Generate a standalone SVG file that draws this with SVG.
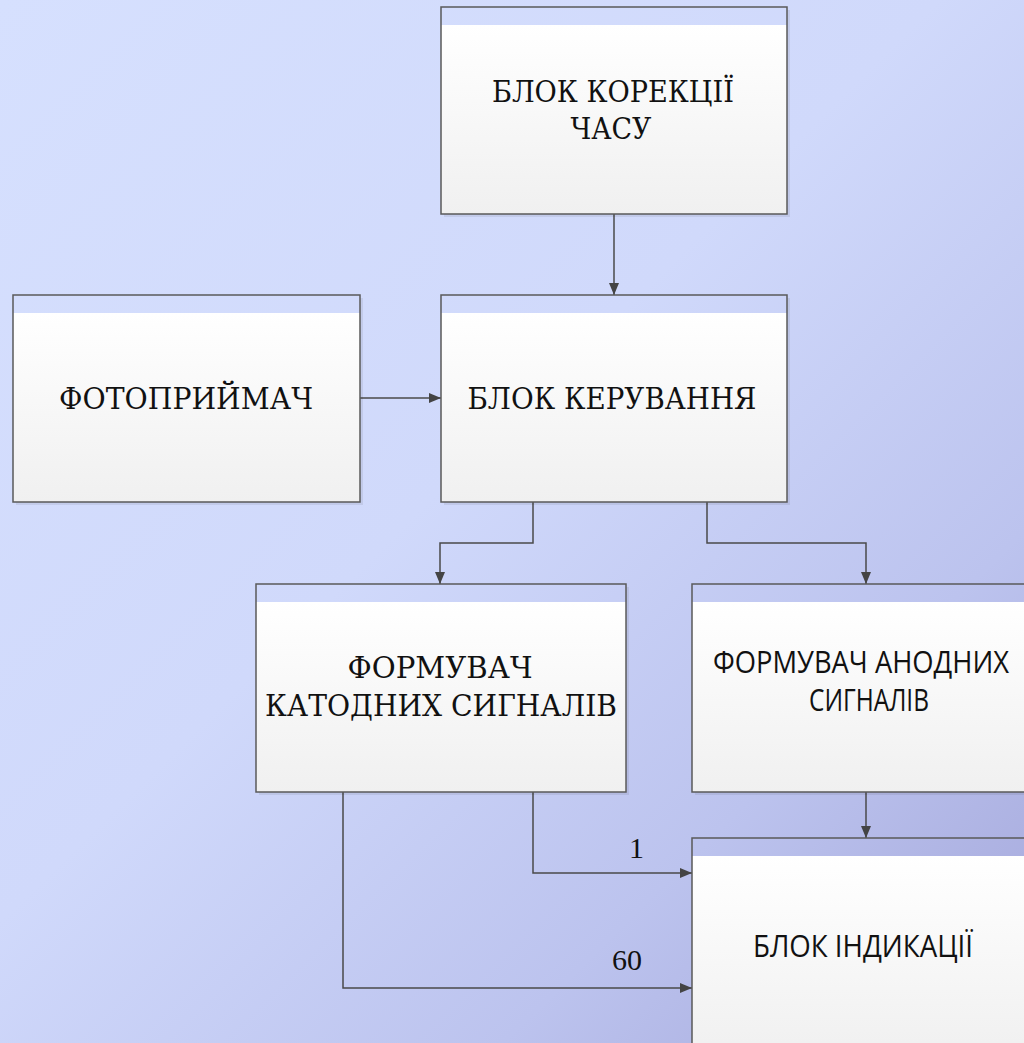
<svg xmlns="http://www.w3.org/2000/svg" width="1024" height="1043" viewBox="0 0 1024 1043">
<defs>
<linearGradient id="bg" x1="0" y1="0" x2="1024" y2="1043" gradientUnits="userSpaceOnUse">
<stop offset="0" stop-color="#d6e0fe"/>
<stop offset="0.45" stop-color="#d0d9fb"/>
<stop offset="0.75" stop-color="#bcc3ee"/>
<stop offset="1" stop-color="#a3a6da"/>
</linearGradient>
<linearGradient id="body" x1="0" y1="0" x2="0" y2="1">
<stop offset="0" stop-color="#ffffff"/>
<stop offset="1" stop-color="#f0f0f0"/>
</linearGradient>
<marker id="arr" viewBox="0 0 12 10" refX="12" refY="5" markerWidth="12" markerHeight="10" markerUnits="userSpaceOnUse" orient="auto">
<path d="M0,0 L12,5 L0,10 Z" fill="#444"/>
</marker>
</defs>
<style>
.shadow{fill:#000;opacity:0.07}
.head{fill:url(#bg)}
.bodyr{fill:url(#body)}
.frame{fill:none;stroke:#5a5a5a;stroke-width:1.5}
.serif{font-family:"DejaVu Serif","Liberation Serif",serif;font-size:30px;fill:#111;text-anchor:middle}
.sans{font-family:"Open Sans","Noto Sans",sans-serif;font-size:31px;fill:#111;text-anchor:middle}
.lbl{font-family:"Liberation Serif","DejaVu Serif",serif;font-size:30px;fill:#111}
.conn{fill:none;stroke:#4a4a4a;stroke-width:1.5}
</style>
<rect x="0" y="0" width="1024" height="1043" fill="url(#bg)"/>

<g id="connectors">
<path class="conn" d="M614,214 V295" marker-end="url(#arr)"/>
<path class="conn" d="M360,398 H441" marker-end="url(#arr)"/>
<path class="conn" d="M533,502 V543 H440 V584" marker-end="url(#arr)"/>
<path class="conn" d="M707,502 V543 H866 V584" marker-end="url(#arr)"/>
<path class="conn" d="M866,792 V838" marker-end="url(#arr)"/>
<path class="conn" d="M533,792 V873 H692" marker-end="url(#arr)"/>
<path class="conn" d="M343,792 V988 H692" marker-end="url(#arr)"/>
<text class="lbl" x="629" y="858">1</text>
<text class="lbl" x="612" y="970">60</text>
</g>

<g id="node-korekcii">
<rect class="shadow" x="444" y="10" width="346" height="207"/>
<rect class="head" x="441" y="7" width="346" height="18"/>
<rect class="bodyr" x="441" y="25" width="346" height="189"/>
<rect class="frame" x="441" y="7" width="346" height="207"/>
<text class="serif" x="613" y="102" textLength="242" lengthAdjust="spacingAndGlyphs">БЛОК КОРЕКЦІЇ</text>
<text class="serif" x="611" y="139" textLength="81" lengthAdjust="spacingAndGlyphs">ЧАСУ</text>
</g>

<g id="node-foto">
<rect class="shadow" x="16" y="298" width="347" height="207"/>
<rect class="head" x="13" y="295" width="347" height="18"/>
<rect class="bodyr" x="13" y="313" width="347" height="189"/>
<rect class="frame" x="13" y="295" width="347" height="207"/>
<text class="serif" x="186" y="409" textLength="254" lengthAdjust="spacingAndGlyphs">ФОТОПРИЙМАЧ</text>
</g>

<g id="node-keruvannya">
<rect class="shadow" x="444" y="298" width="346" height="207"/>
<rect class="head" x="441" y="295" width="346" height="18"/>
<rect class="bodyr" x="441" y="313" width="346" height="189"/>
<rect class="frame" x="441" y="295" width="346" height="207"/>
<text class="serif" x="612" y="409" textLength="289" lengthAdjust="spacingAndGlyphs">БЛОК КЕРУВАННЯ</text>
</g>

<g id="node-katod">
<rect class="shadow" x="259" y="587" width="370" height="208"/>
<rect class="head" x="256" y="584" width="370" height="18"/>
<rect class="bodyr" x="256" y="602" width="370" height="190"/>
<rect class="frame" x="256" y="584" width="370" height="208"/>
<text class="serif" x="440" y="678" textLength="185" lengthAdjust="spacingAndGlyphs">ФОРМУВАЧ</text>
<text class="serif" x="441" y="716" textLength="352" lengthAdjust="spacingAndGlyphs">КАТОДНИХ СИГНАЛІВ</text>
</g>

<g id="node-anod">
<rect class="shadow" x="695" y="587" width="340" height="208"/>
<rect class="head" x="692" y="584" width="340" height="18"/>
<rect class="bodyr" x="692" y="602" width="340" height="190"/>
<rect class="frame" x="692" y="584" width="340" height="208"/>
<text class="sans" x="861" y="673" textLength="296" lengthAdjust="spacingAndGlyphs">ФОРМУВАЧ АНОДНИХ</text>
<text class="sans" x="869" y="711" textLength="120" lengthAdjust="spacingAndGlyphs">СИГНАЛІВ</text>
</g>

<g id="node-indikacii">
<rect class="head" x="692" y="838" width="340" height="18"/>
<rect class="bodyr" x="692" y="856" width="340" height="200"/>
<rect class="frame" x="692" y="838" width="340" height="220"/>
<text class="sans" x="863" y="957" textLength="220" lengthAdjust="spacingAndGlyphs">БЛОК ІНДИКАЦІЇ</text>
</g>
</svg>
